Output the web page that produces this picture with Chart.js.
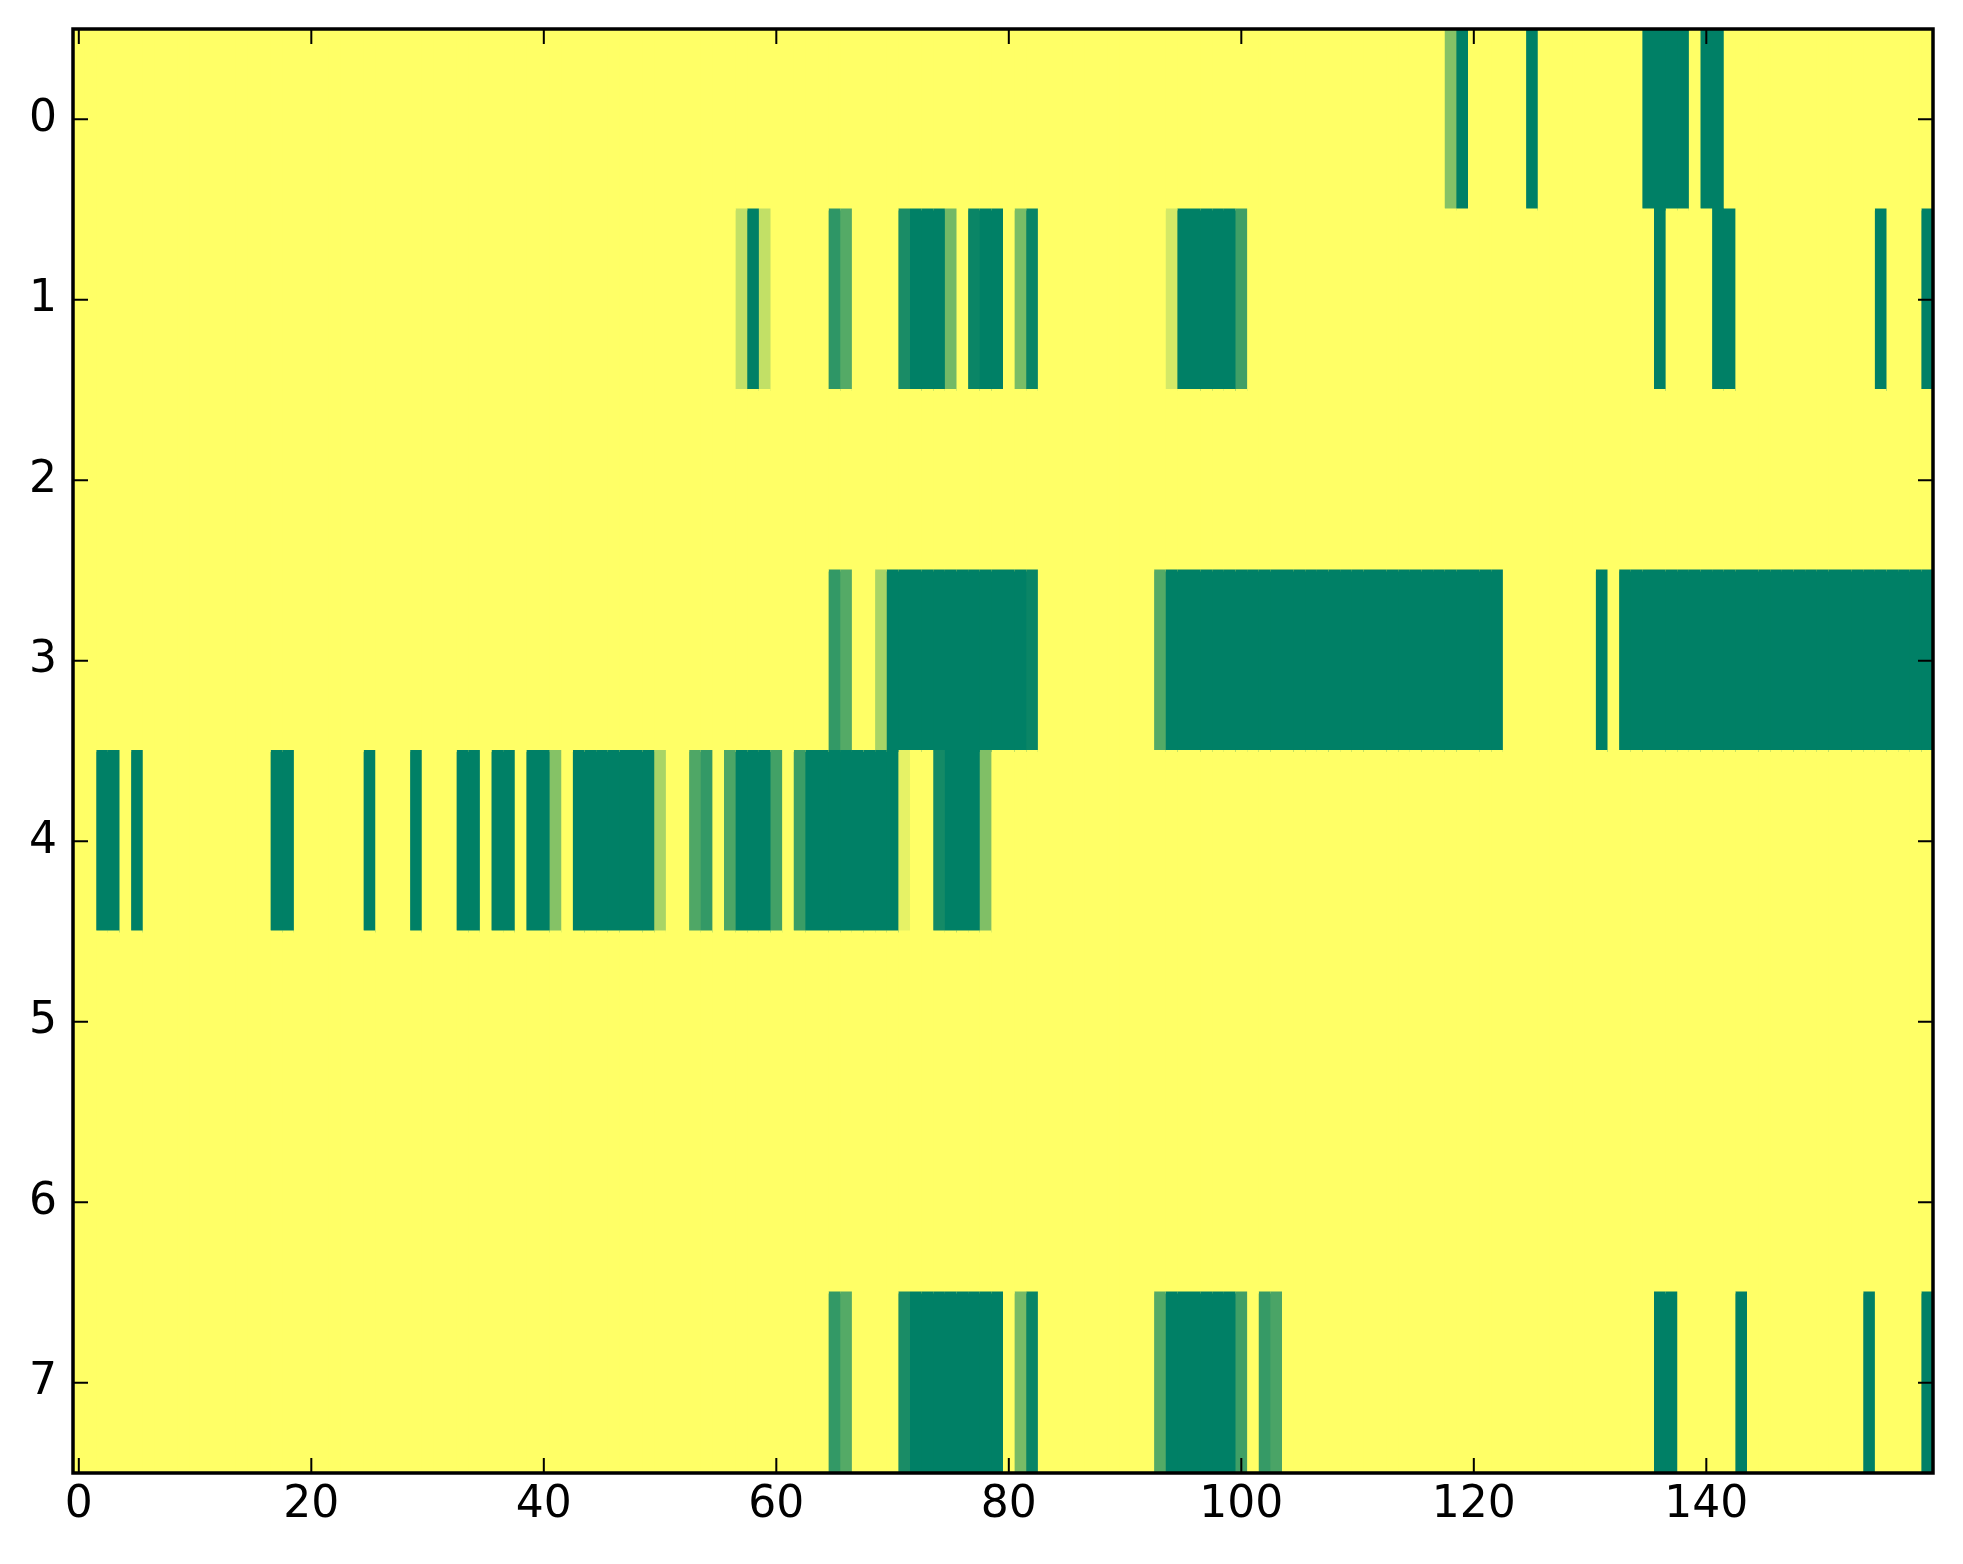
<!DOCTYPE html>
<html>
<head>
<meta charset="utf-8">
<script src="https://cdn.jsdelivr.net/npm/chart.js@4.4.1/dist/chart.umd.min.js"></script>
<style>
  body { margin: 0; background: #fff; }
  #wrap { width: 1963px; height: 1564px; }
</style>
</head>
<body>
<div id="wrap"><canvas id="heat" width="1963" height="1564"></canvas></div>
<script>
// row labels (top to bottom) and x tick positions
var rowLabels = ['0', '1', '2', '3', '4', '5', '6', '7'];
var xTicks = [0, 20, 40, 60, 80, 100, 120, 140];

// cell values, 160 columns per row, 0 = dark green ... 1 = yellow
var row0 = [
  1,1,1,1,1,1,1,1,1,1,1,1,1,1,1,1,1,1,1,1,
  1,1,1,1,1,1,1,1,1,1,1,1,1,1,1,1,1,1,1,1,
  1,1,1,1,1,1,1,1,1,1,1,1,1,1,1,1,1,1,1,1,
  1,1,1,1,1,1,1,1,1,1,1,1,1,1,1,1,1,1,1,1,
  1,1,1,1,1,1,1,1,1,1,1,1,1,1,1,1,1,1,1,1,
  1,1,1,1,1,1,1,1,1,1,1,1,1,1,1,1,1,1,0.52,0,
  1,1,1,1,1,0,1,1,1,1,1,1,1,1,1,0,0,0,0,1,
  0,0,1,1,1,1,1,1,1,1,1,1,1,1,1,1,1,1,1,1
];
var row1 = [
  1,1,1,1,1,1,1,1,1,1,1,1,1,1,1,1,1,1,1,1,
  1,1,1,1,1,1,1,1,1,1,1,1,1,1,1,1,1,1,1,1,
  1,1,1,1,1,1,1,1,1,1,1,1,1,1,1,1,1,0.76,0,0.76,
  1,1,1,1,1,0.18,0.33,1,1,1,1,0.1,0,0,0,0.45,1,0.04,0,0,
  1,0.48,0.04,1,1,1,1,1,1,1,1,1,1,1,0.83,0,0,0,0,0,
  0.25,1,1,1,1,1,1,1,1,1,1,1,1,1,1,1,1,1,1,1,
  1,1,1,1,1,1,1,1,1,1,1,1,1,1,1,1,0,1,1,1,
  1,0,0,1,1,1,1,1,1,1,1,1,1,1,1,0,1,1,1,0
];
var row2 = [
  1,1,1,1,1,1,1,1,1,1,1,1,1,1,1,1,1,1,1,1,
  1,1,1,1,1,1,1,1,1,1,1,1,1,1,1,1,1,1,1,1,
  1,1,1,1,1,1,1,1,1,1,1,1,1,1,1,1,1,1,1,1,
  1,1,1,1,1,1,1,1,1,1,1,1,1,1,1,1,1,1,1,1,
  1,1,1,1,1,1,1,1,1,1,1,1,1,1,1,1,1,1,1,1,
  1,1,1,1,1,1,1,1,1,1,1,1,1,1,1,1,1,1,1,1,
  1,1,1,1,1,1,1,1,1,1,1,1,1,1,1,1,1,1,1,1,
  1,1,1,1,1,1,1,1,1,1,1,1,1,1,1,1,1,1,1,1
];
var row3 = [
  1,1,1,1,1,1,1,1,1,1,1,1,1,1,1,1,1,1,1,1,
  1,1,1,1,1,1,1,1,1,1,1,1,1,1,1,1,1,1,1,1,
  1,1,1,1,1,1,1,1,1,1,1,1,1,1,1,1,1,1,1,1,
  1,1,1,1,1,0.2,0.33,1,1,0.66,0,0,0,0,0,0,0,0,0,0,
  0,0,0.04,1,1,1,1,1,1,1,1,1,1,0.33,0,0,0,0,0,0,
  0,0,0,0,0,0,0,0,0,0,0,0,0,0,0,0,0,0,0,0,
  0,0,0,1,1,1,1,1,1,1,1,0,1,0,0,0,0,0,0,0,
  0,0,0,0,0,0,0,0,0,0,0,0,0,0,0,0,0,0,0,0
];
var row4 = [
  1,1,0,0,1,0,1,1,1,1,1,1,1,1,1,1,1,0,0,1,
  1,1,1,1,1,0,1,1,1,0,1,1,1,0,0,1,0,0,1,0,
  0,0.52,1,0,0,0,0,0,0,0,0.66,1,1,0.31,0.2,1,0.3,0,0,0,
  0.26,1,0.23,0,0,0,0,0,0,0,0,0.9,1,1,0.08,0,0,0,0.5,1,
  1,1,1,1,1,1,1,1,1,1,1,1,1,1,1,1,1,1,1,1,
  1,1,1,1,1,1,1,1,1,1,1,1,1,1,1,1,1,1,1,1,
  1,1,1,1,1,1,1,1,1,1,1,1,1,1,1,1,1,1,1,1,
  1,1,1,1,1,1,1,1,1,1,1,1,1,1,1,1,1,1,1,1
];
var row5 = [
  1,1,1,1,1,1,1,1,1,1,1,1,1,1,1,1,1,1,1,1,
  1,1,1,1,1,1,1,1,1,1,1,1,1,1,1,1,1,1,1,1,
  1,1,1,1,1,1,1,1,1,1,1,1,1,1,1,1,1,1,1,1,
  1,1,1,1,1,1,1,1,1,1,1,1,1,1,1,1,1,1,1,1,
  1,1,1,1,1,1,1,1,1,1,1,1,1,1,1,1,1,1,1,1,
  1,1,1,1,1,1,1,1,1,1,1,1,1,1,1,1,1,1,1,1,
  1,1,1,1,1,1,1,1,1,1,1,1,1,1,1,1,1,1,1,1,
  1,1,1,1,1,1,1,1,1,1,1,1,1,1,1,1,1,1,1,1
];
var row6 = [
  1,1,1,1,1,1,1,1,1,1,1,1,1,1,1,1,1,1,1,1,
  1,1,1,1,1,1,1,1,1,1,1,1,1,1,1,1,1,1,1,1,
  1,1,1,1,1,1,1,1,1,1,1,1,1,1,1,1,1,1,1,1,
  1,1,1,1,1,1,1,1,1,1,1,1,1,1,1,1,1,1,1,1,
  1,1,1,1,1,1,1,1,1,1,1,1,1,1,1,1,1,1,1,1,
  1,1,1,1,1,1,1,1,1,1,1,1,1,1,1,1,1,1,1,1,
  1,1,1,1,1,1,1,1,1,1,1,1,1,1,1,1,1,1,1,1,
  1,1,1,1,1,1,1,1,1,1,1,1,1,1,1,1,1,1,1,1
];
var row7 = [
  1,1,1,1,1,1,1,1,1,1,1,1,1,1,1,1,1,1,1,1,
  1,1,1,1,1,1,1,1,1,1,1,1,1,1,1,1,1,1,1,1,
  1,1,1,1,1,1,1,1,1,1,1,1,1,1,1,1,1,1,1,1,
  1,1,1,1,1,0.2,0.33,1,1,1,1,0.1,0,0,0,0,0,0,0,0,
  1,0.47,0.04,1,1,1,1,1,1,1,1,1,1,0.33,0,0,0,0,0,0,
  0.25,1,0.21,0.29,1,1,1,1,1,1,1,1,1,1,1,1,1,1,1,1,
  1,1,1,1,1,1,1,1,1,1,1,1,1,1,1,1,0,0,1,1,
  1,1,1,0,1,1,1,1,1,1,1,1,1,1,0,1,1,1,1,0
];

var rows = [row0, row1, row2, row3, row4, row5, row6, row7];
var nCols = row0.length;

// matplotlib "summer" colormap
function summer(v) {
  var r = Math.round(255 * v);
  var g = Math.round(255 * (0.5 + 0.5 * v));
  return 'rgb(' + r + ',' + g + ',102)';
}

// one dataset per column, each row is a floating horizontal bar.
// bars reach a little to the left; the next column (drawn later) covers it,
// so no seams show between cells
var datasets = [];
for (var c = 0; c < nCols; c++) {
  var data = [];
  var colors = [];
  for (var r = 0; r < rows.length; r++) {
    data.push([c - 0.62, c + 0.5]);
    colors.push(summer(rows[r][c]));
  }
  datasets.push({
    data: data,
    backgroundColor: colors,
    borderWidth: 0,
    grouped: false,
    barPercentage: 1.01,
    categoryPercentage: 1,
    clip: 0
  });
}

// frame + inward ticks on all four sides, like the old matplotlib style
var frameTicks = {
  id: 'frameTicks',
  afterDatasetsDraw: function(chart) {
    var ctx = chart.ctx;
    var a = chart.chartArea;
    var xs = chart.scales.x;
    var ys = chart.scales.y;
    var len = 15;
    ctx.save();
    ctx.strokeStyle = '#000';
    ctx.lineWidth = 2;
    ctx.beginPath();
    xs.ticks.forEach(function(t) {
      var px = xs.getPixelForValue(t.value);
      ctx.moveTo(px, a.bottom);
      ctx.lineTo(px, a.bottom - len);
      ctx.moveTo(px, a.top);
      ctx.lineTo(px, a.top + len);
    });
    ys.ticks.forEach(function(t, i) {
      var py = ys.getPixelForTick(i);
      ctx.moveTo(a.left, py);
      ctx.lineTo(a.left + len, py);
      ctx.moveTo(a.right, py);
      ctx.lineTo(a.right - len, py);
    });
    ctx.stroke();
    ctx.lineWidth = 3.5;
    ctx.strokeRect(a.left, a.top, a.right - a.left, a.bottom - a.top);
    ctx.restore();
  }
};

Chart.defaults.font.family = 'DejaVu Sans';
Chart.defaults.color = '#000';

var heatChart = new Chart(document.getElementById('heat'), {
  type: 'bar',
  data: { labels: rowLabels, datasets: datasets },
  options: {
    indexAxis: 'y',
    responsive: false,
    animation: false,
    devicePixelRatio: 1,
    layout: { padding: { left: 0, top: 29, right: 30, bottom: 0 } },
    plugins: { legend: { display: false }, tooltip: { enabled: false } },
    scales: {
      x: {
        type: 'linear',
        min: -0.5,
        max: nCols - 0.5,
        afterBuildTicks: function(s) {
          s.ticks = xTicks.map(function(v) { return { value: v }; });
        },
        afterFit: function(s) {
          s.height = 91;
          s.paddingLeft = 0;
          s.paddingRight = 0;
        },
        grid: { display: false, drawTicks: false },
        border: { display: false },
        ticks: { font: { size: 44 }, padding: 6, maxRotation: 0, autoSkip: false }
      },
      y: {
        type: 'category',
        afterFit: function(s) {
          s.width = 73;
          s.paddingTop = 0;
          s.paddingBottom = 0;
        },
        grid: { display: false, drawTicks: false },
        border: { display: false },
        ticks: { font: { size: 44 }, padding: 16 }
      }
    }
  },
  plugins: [frameTicks]
});
</script>
</body>
</html>
